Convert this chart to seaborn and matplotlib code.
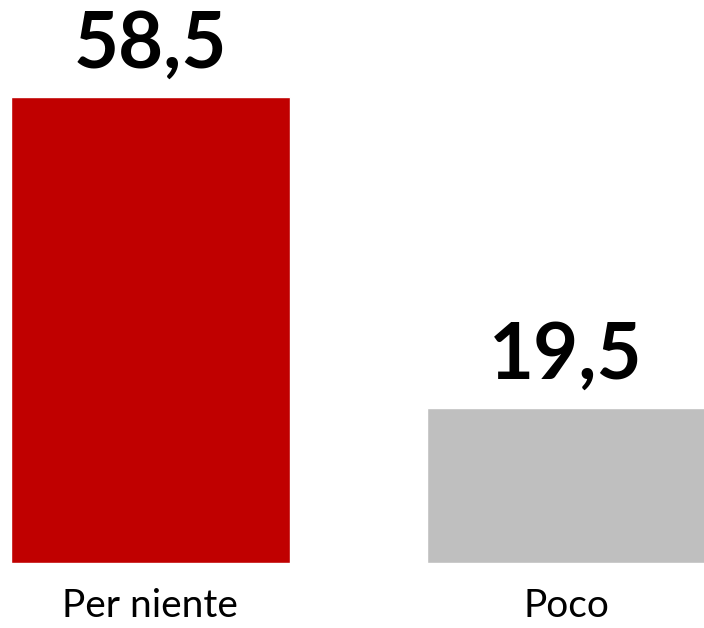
import matplotlib
matplotlib.use("Agg")
import matplotlib.pyplot as plt
import seaborn as sns
import pandas as pd

categories = ["Per niente", "Poco"]
values = [58.5, 19.5]
colors = ["#C00000", "#BFBFBF"]
labels = ["58,5", "19,5"]

sns.set_theme(style="white")
plt.rcParams["font.family"] = ["Lato", "DejaVu Sans"]

df = pd.DataFrame({"cat": categories, "val": values})

fig = plt.figure(figsize=(7.04, 6.28), dpi=100)
ax = fig.add_axes([0, 65 / 628, 1, 466 / 628])

sns.barplot(data=df, x="cat", y="val", hue="cat", palette=colors,
            width=0.67, saturation=1, legend=False, ax=ax)

ax.set_ylim(0, 58.5)
ax.set_xlim(-0.3615, 1.332)

for i, (v, lab) in enumerate(zip(values, labels)):
    ax.text(i, v + 1.9, lab, ha="center", va="bottom", fontsize=56,
            fontweight="bold", color="black", clip_on=False)

ax.set_xlabel("")
ax.set_ylabel("")
ax.set_yticks([])
ax.tick_params(axis="x", length=0, pad=18, labelsize=28, labelcolor="black")
sns.despine(ax=ax, left=True, bottom=True)

fig.savefig("out.png", dpi=100)
